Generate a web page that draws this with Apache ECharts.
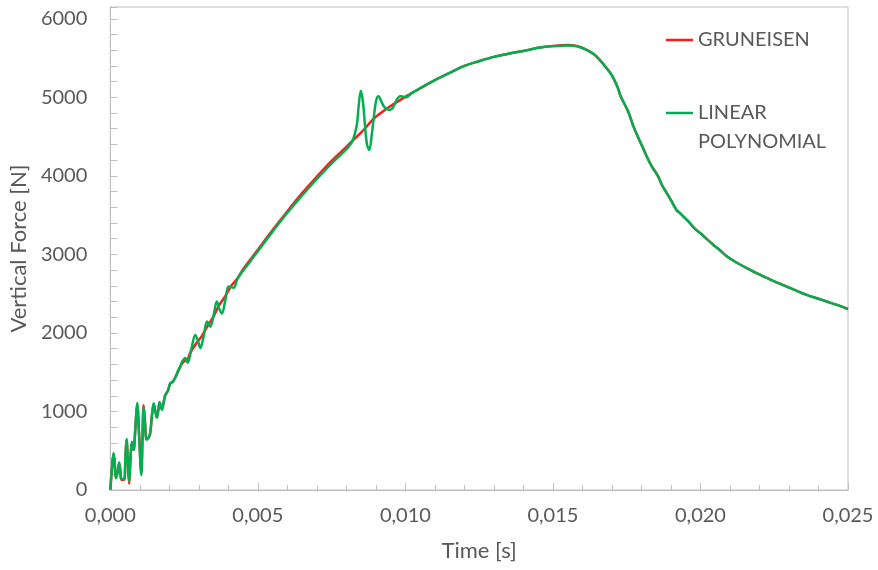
<!DOCTYPE html>
<html>
<head>
<meta charset="utf-8">
<script src="https://cdn.jsdelivr.net/npm/echarts@6/dist/echarts.min.js"></script>
<style>
  html, body { margin: 0; padding: 0; background: #ffffff; }
  #chart { width: 878px; height: 570px; }
</style>
</head>
<body>
<div id="chart"></div>
<script>
// Vertical force vs. time for two equation-of-state models
const seriesNames = ['GRUNEISEN', 'LINEAR POLYNOMIAL'];

const gruneisenTime = [
  0, 0.00005, 0.00011, 0.00015, 0.00019, 0.00025, 0.0003, 0.00034, 0.00038, 0.00047,
  0.00051, 0.00055, 0.0006, 0.00064, 0.00068, 0.00073, 0.00079, 0.00085, 0.00091, 0.00098,
  0.00105, 0.00109, 0.00113, 0.00118, 0.00122, 0.00128, 0.00135, 0.00141, 0.00147, 0.00153,
  0.00158, 0.00163, 0.00167, 0.00171, 0.00175, 0.00181, 0.00186, 0.00195, 0.00203, 0.00212,
  0.0022, 0.00231, 0.00243, 0.00254, 0.00262, 0.0027, 0.0029, 0.0031, 0.0033, 0.0035,
  0.0037, 0.0039, 0.0041, 0.0043, 0.0045, 0.0048, 0.005, 0.0055, 0.006, 0.0065,
  0.007, 0.0075, 0.008, 0.0083, 0.0086, 0.0089, 0.0092, 0.0095, 0.0098, 0.0102,
  0.011, 0.0115, 0.012, 0.0125, 0.013, 0.0135, 0.014, 0.0145, 0.015, 0.0155,
  0.0158, 0.0161, 0.0164, 0.0166, 0.0168, 0.017, 0.0172, 0.0173, 0.01755, 0.01773,
  0.0179, 0.01806, 0.0182, 0.01835, 0.01845, 0.01857, 0.0187, 0.01886, 0.019, 0.0192,
  0.01931, 0.01945, 0.01959, 0.0198, 0.02, 0.0202, 0.02044, 0.0207, 0.02089, 0.0212,
  0.02157, 0.0219, 0.02225, 0.0226, 0.02292, 0.0233, 0.0236, 0.024, 0.02428, 0.0246,
  0.025
];
const gruneisenForce = [
  0, 240, 455, 330, 160, 230, 340, 240, 130, 130,
  380, 630, 320, 80, 360, 600, 510, 790, 1090, 680,
  230, 640, 1080, 850, 660, 660, 720, 940, 1090, 1000,
  930, 1020, 1110, 1070, 1040, 1120, 1200, 1260, 1350, 1380,
  1430, 1520, 1610, 1650, 1660, 1740, 1860, 1960, 2090, 2210,
  2360, 2470, 2600, 2690, 2810, 2960, 3060, 3310, 3550, 3780,
  3990, 4190, 4370, 4480, 4590, 4720, 4810, 4890, 4960, 5050,
  5220, 5310, 5400, 5460, 5515, 5555, 5590, 5630, 5655, 5665,
  5655, 5615, 5545, 5470, 5380, 5280, 5120, 5010, 4820, 4630,
  4480, 4350, 4230, 4120, 4065, 3990, 3880, 3780, 3690, 3560,
  3525, 3470, 3420, 3330, 3270, 3200, 3120, 3040, 2975, 2900,
  2825, 2760, 2700, 2640, 2590, 2530, 2485, 2435, 2400, 2360,
  2305
];

const linearTime = [
  0, 0.00005, 0.00011, 0.00015, 0.00019, 0.00025, 0.0003, 0.00034, 0.00038, 0.00047,
  0.00051, 0.00055, 0.0006, 0.00064, 0.00068, 0.00073, 0.00079, 0.00085, 0.00091, 0.00098,
  0.00105, 0.00109, 0.00113, 0.00118, 0.00122, 0.00128, 0.00135, 0.00141, 0.00147, 0.00153,
  0.00158, 0.00163, 0.00167, 0.00171, 0.00175, 0.00181, 0.00186, 0.00195, 0.00203, 0.00212,
  0.0022, 0.00231, 0.00237, 0.00243, 0.00254, 0.00262, 0.00275, 0.00288, 0.00297, 0.00305,
  0.00316, 0.00328, 0.00339, 0.0035, 0.00361, 0.0037, 0.00378, 0.0039, 0.00401, 0.00418,
  0.0043, 0.0044, 0.00474, 0.005, 0.0055, 0.006, 0.0065, 0.007, 0.0075, 0.008,
  0.0082, 0.00835, 0.00842, 0.00849, 0.00856, 0.00863, 0.0087, 0.00878, 0.00886, 0.00894,
  0.00901, 0.00909, 0.00918, 0.00928, 0.00938, 0.00948, 0.00958, 0.0097, 0.00982, 0.00995,
  0.01005, 0.0102, 0.011, 0.0115, 0.012, 0.0125, 0.013, 0.0135, 0.014, 0.0145,
  0.015, 0.0155, 0.0158, 0.0161, 0.0164, 0.0166, 0.0168, 0.017, 0.0172, 0.0173,
  0.01755, 0.01773, 0.0179, 0.01806, 0.0182, 0.01835, 0.01845, 0.01857, 0.0187, 0.01886,
  0.019, 0.0192, 0.01931, 0.01945, 0.01959, 0.0198, 0.02, 0.0202, 0.02044, 0.0207,
  0.02089, 0.0212, 0.02157, 0.0219, 0.02225, 0.0226, 0.02292, 0.0233, 0.0236, 0.024,
  0.02428, 0.0246, 0.025
];
const linearForce = [
  0, 250, 470, 330, 150, 230, 350, 240, 140, 140,
  400, 650, 330, 110, 380, 615, 510, 800, 1110, 650,
  190, 650, 1055, 820, 640, 660, 720, 950, 1105, 990,
  920, 1030, 1120, 1070, 1020, 1120, 1210, 1265, 1360, 1380,
  1430, 1530, 1570, 1630, 1680, 1620, 1800, 1975, 1900, 1805,
  1950, 2145, 2080, 2220, 2400, 2300, 2245, 2420, 2590, 2575,
  2680, 2740, 2910, 3040, 3290, 3530, 3750, 3960, 4160, 4340,
  4440, 4640, 4900, 5085, 4950, 4650, 4400, 4330, 4520, 4780,
  4960, 5015, 4950, 4880, 4850, 4840, 4870, 4960, 5015, 5005,
  5000, 5050, 5220, 5310, 5400, 5460, 5515, 5555, 5590, 5630,
  5650, 5660, 5650, 5610, 5545, 5470, 5380, 5280, 5120, 5010,
  4820, 4630, 4480, 4350, 4230, 4120, 4060, 3990, 3880, 3780,
  3690, 3560, 3525, 3470, 3420, 3330, 3270, 3200, 3120, 3040,
  2975, 2900, 2825, 2760, 2700, 2640, 2590, 2530, 2485, 2435,
  2400, 2360, 2305
];

// Axis ranges and labelled ticks
const timeTicks = [0, 0.005, 0.01, 0.015, 0.02, 0.025];
const forceTicks = [0, 1000, 2000, 3000, 4000, 5000, 6000];
const forceTop = 6150;

const pair = (ts, fs) => ts.map((t, i) => [t, fs[i]]);

const textColor = '#595959';
const axisColor = '#bfbfbf';
const fontFamily = 'Lato, "Open Sans", sans-serif';

// Legend keys: a short bar inside a 27x58 box. The bar sits at the middle
// for a one-line label and level with the first line for a two-line label.
const keyMiddle = 'path://M0,0h0.01v0.01h-0.01z M0,27.75H27V30.25H0Z M26.99,57.99h0.01v0.01h-0.01z';
const keyFirstLine = 'path://M0,0h0.01v0.01h-0.01z M0,13.25H27V15.75H0Z M26.99,57.99h0.01v0.01h-0.01z';

const chart = echarts.init(document.getElementById('chart'));
chart.setOption({
  animation: false,
  backgroundColor: '#ffffff',
  textStyle: { fontFamily: fontFamily, color: textColor },
  grid: {
    left: 110, right: 30, top: 7, bottom: 80,
    show: true, borderColor: axisColor, borderWidth: 1
  },
  legend: {
    orient: 'vertical',
    left: 661,
    top: 6,
    padding: 5,
    itemGap: 29.5,
    itemWidth: 27,
    itemHeight: 58,
    itemStyle: { borderWidth: 0 },
    textStyle: { fontSize: 20, color: textColor, lineHeight: 29, fontFamily: fontFamily },
    data: [
      { name: seriesNames[0], icon: keyMiddle },
      { name: seriesNames[1], icon: keyFirstLine }
    ],
    formatter: name => name.replace(' ', '\n')
  },
  xAxis: {
    type: 'value',
    min: timeTicks[0],
    max: timeTicks[timeTicks.length - 1],
    interval: timeTicks[1] - timeTicks[0],
    name: 'Time [s]',
    nameLocation: 'middle',
    nameGap: 50,
    nameTextStyle: { fontSize: 22, color: textColor, fontFamily: fontFamily },
    axisLine: { show: true, lineStyle: { color: axisColor, width: 1 } },
    axisTick: { show: true, inside: true, length: 7, lineStyle: { color: axisColor } },
    minorTick: { show: true, splitNumber: 5, length: 5, lineStyle: { color: axisColor } },
    splitLine: { show: false },
    axisLabel: {
      fontSize: 20, color: textColor, margin: 16, fontFamily: fontFamily,
      formatter: v => v.toFixed(3).replace('.', ',')
    }
  },
  yAxis: {
    type: 'value',
    min: 0,
    max: forceTop,
    interval: 200,
    name: 'Vertical Force [N]',
    nameLocation: 'middle',
    nameGap: 67,
    nameTextStyle: { fontSize: 22, color: textColor, fontFamily: fontFamily },
    axisLine: { show: true, lineStyle: { color: axisColor, width: 1 } },
    axisTick: { show: true, inside: true, length: 7, lineStyle: { color: axisColor } },
    splitLine: { show: false },
    axisLabel: {
      fontSize: 20, color: textColor, margin: 23, fontFamily: fontFamily,
      formatter: v => forceTicks.indexOf(Math.round(v)) >= 0 && Math.abs(v - Math.round(v)) < 1e-6 ? String(Math.round(v)) : ''
    }
  },
  series: [
    {
      name: seriesNames[0],
      type: 'line',
      data: pair(gruneisenTime, gruneisenForce),
      showSymbol: false,
      smooth: 0.35,
      lineStyle: { color: '#ff1a1a', width: 2.5 },
      itemStyle: { color: '#ff1a1a' },
      z: 2
    },
    {
      name: seriesNames[1],
      type: 'line',
      data: pair(linearTime, linearForce),
      showSymbol: false,
      smooth: 0.35,
      lineStyle: { color: '#00b050', width: 2.5 },
      itemStyle: { color: '#00b050' },
      z: 3
    }
  ]
});
</script>
</body>
</html>
